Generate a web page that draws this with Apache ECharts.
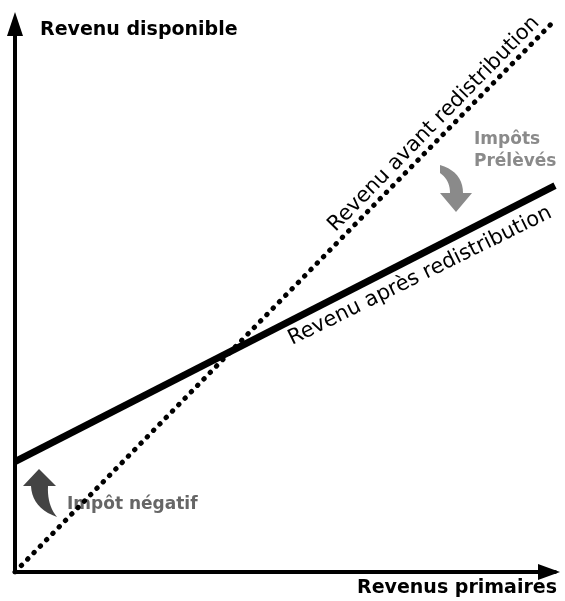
<!DOCTYPE html>
<html>
<head>
<meta charset="utf-8">
<script src="https://cdn.jsdelivr.net/npm/echarts@6/dist/echarts.min.js"></script>
<style>
  html, body { margin: 0; padding: 0; background: #fff; }
  #chart { width: 565px; height: 601px; }
</style>
</head>
<body>
<div id="chart"></div>
<script>
// revenus primaires (axe x) et revenus disponibles (axe y), en unités arbitraires
const revenusPrimaires = [0, 100]
const revenuAvant = [0, 100]      // avant redistribution : revenu disponible = revenu primaire
const revenuApres = [20, 70]      // après redistribution : pente plus faible

const chart = echarts.init(document.getElementById('chart'))

const font = '"DejaVu Sans", sans-serif'

// courbe de Bézier quadratique échantillonnée (pour les flèches courbes)
function quad(p0, c, p1, n) {
  const pts = []
  for (let i = 0; i <= n; i++) {
    const t = i / n
    pts.push([
      (1 - t) * (1 - t) * p0[0] + 2 * (1 - t) * t * c[0] + t * t * p1[0],
      (1 - t) * (1 - t) * p0[1] + 2 * (1 - t) * t * c[1] + t * t * p1[1]
    ])
  }
  return pts
}

// flèche "impôts prélevés" (vers le bas)
const flecheBas = [
  ...quad([440, 165], [463, 172], [463, 193], 10),
  [472, 193], [456, 212], [440, 193], [450, 193],
  ...quad([450, 193], [450, 180], [440, 173], 10)
]
// flèche "impôt négatif" (vers le haut)
const flecheHaut = [
  [39, 469], [56, 486], [48, 486],
  ...quad([48, 486], [47, 505], [57, 517], 10),
  ...quad([57, 517], [32, 508], [31, 486], 10),
  [23, 486]
]

const axisCommon = {
  type: 'value',
  min: 0,
  max: 100,
  axisLabel: { show: false },
  axisTick: { show: false },
  splitLine: { show: false }
}

const option = {
  backgroundColor: '#fff',
  animation: false,
  grid: { left: 15, right: 10, top: 20, bottom: 29 },
  xAxis: {
    ...axisCommon,
    axisLine: {
      show: true,
      symbol: ['none', 'triangle'],
      symbolSize: [16, 22],
      symbolOffset: [0, -6],
      lineStyle: { color: '#000', width: 4 }
    }
  },
  yAxis: {
    ...axisCommon,
    axisLine: {
      show: true,
      symbol: ['none', 'triangle'],
      symbolSize: [16, 24],
      symbolOffset: [0, -4],
      lineStyle: { color: '#000', width: 4 }
    }
  },
  series: [
    {
      name: 'Revenu avant redistribution',
      type: 'line',
      data: revenusPrimaires.map((x, i) => [x, revenuAvant[i]]),
      showSymbol: false,
      lineStyle: { color: '#000', width: 5, type: [0.5, 8.5], cap: 'round' }
    },
    {
      name: 'Revenu après redistribution',
      type: 'line',
      data: revenusPrimaires.map((x, i) => [x, revenuApres[i]]),
      showSymbol: false,
      lineStyle: { color: '#000', width: 7 }
    }
  ],
  graphic: [
    // titres des axes
    {
      type: 'text', x: 40, y: 30,
      style: { text: 'Revenu disponible', font: 'bold 19px ' + font, fill: '#000', verticalAlign: 'middle' }
    },
    {
      type: 'text', x: 557, y: 588,
      style: { text: 'Revenus primaires', font: 'bold 19px ' + font, fill: '#000', align: 'right', verticalAlign: 'middle' }
    },
    // étiquettes des droites
    {
      type: 'text', x: 434, y: 124, rotation: 45.6 * Math.PI / 180,
      style: { text: 'Revenu avant redistribution', font: '21px ' + font, fill: '#000', align: 'center', verticalAlign: 'middle' }
    },
    {
      type: 'text', x: 420, y: 276, rotation: 26.2 * Math.PI / 180,
      style: { text: 'Revenu après redistribution', font: '21px ' + font, fill: '#000', align: 'center', verticalAlign: 'middle' }
    },
    // impôts prélevés
    {
      type: 'text', x: 474, y: 129,
      style: { text: 'Impôts\nPrélèvés', font: 'bold 17px ' + font, fill: '#8a8a8a', lineHeight: 22 }
    },
    {
      type: 'polygon',
      shape: { points: flecheBas },
      style: { fill: '#8a8a8a' }
    },
    // impôt négatif
    {
      type: 'text', x: 67, y: 505,
      style: { text: 'Impôt négatif', font: 'bold 17px ' + font, fill: '#666', verticalAlign: 'middle' }
    },
    {
      type: 'polygon',
      shape: { points: flecheHaut },
      style: { fill: '#444' }
    }
  ]
}

chart.setOption(option)
</script>
</body>
</html>
